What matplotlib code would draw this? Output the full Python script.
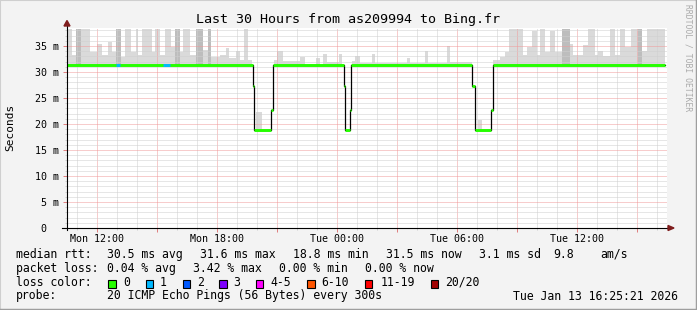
import numpy as np
import matplotlib
matplotlib.use("Agg")
import matplotlib.pyplot as plt
from matplotlib.patches import Rectangle, Polygon

W, H, DPI = 697, 310, 100
MONO = "DejaVu Sans Mono"

# time axis in hours since Mon 00:00
x_start, x_end = 10.5, 40.5
y_top = 38.46

# median rtt (ms), step series: value med_v[i] holds from med_t[i] to med_t[i+1]
med_t = [10.5, 19.785, 19.865, 20.685, 20.785, 24.365, 24.415, 24.65, 24.70,
         30.765, 30.875, 31.685, 31.785, 40.4]
med_v = [31.4, 27.3, 18.8, 22.7, 31.4, 27.3, 18.8, 22.7, 31.4, 27.3, 18.8, 22.7, 31.4]

# spans with lost packets
loss_start = [12.95, 15.30]
loss_end = [13.15, 15.65]
loss_n = [1, 1]

# smoke bars (hours, top in ms, dark = more pings up there)
smoke_start = [10.50, 10.75, 10.95, 11.20, 11.65, 12.00, 12.25, 12.55, 12.75, 12.95,
               13.20, 13.40, 13.70, 13.95, 14.05, 14.25, 14.55, 14.75, 14.90, 15.15,
               15.40, 15.70, 15.90, 16.15, 16.30, 16.65, 16.95, 17.30, 17.55, 17.70,
               18.15, 18.45, 18.60, 18.95, 19.15, 19.35, 19.55, 19.95, 20.85, 21.00,
               21.30, 22.15, 22.95, 23.30, 23.50, 24.10, 24.75, 24.90, 25.15, 25.75,
               25.90, 27.50, 27.65, 28.40, 28.55, 29.50, 29.65, 31.05, 31.80, 32.15,
               32.40, 32.60, 33.00, 33.30, 33.50, 33.75, 34.00, 34.15, 34.40, 34.65,
               34.90, 35.25, 35.65, 35.80, 36.30, 36.55, 36.90, 37.05, 37.30, 37.65,
               37.90, 38.15, 38.40, 38.70, 39.05, 39.25, 39.50, 39.80, 40.00]
smoke_end = [10.75, 10.95, 11.20, 11.65, 12.00, 12.25, 12.55, 12.75, 12.95, 13.20,
             13.40, 13.70, 13.95, 14.05, 14.25, 14.55, 14.75, 14.90, 15.15, 15.40,
             15.70, 15.90, 16.15, 16.30, 16.65, 16.95, 17.30, 17.55, 17.70, 18.15,
             18.45, 18.60, 18.95, 19.15, 19.35, 19.55, 19.75, 20.25, 21.00, 21.30,
             22.15, 22.40, 23.15, 23.50, 24.10, 24.25, 24.90, 25.15, 25.75, 25.90,
             27.50, 27.65, 28.40, 28.55, 29.50, 29.65, 30.75, 31.25, 32.15, 32.40,
             32.60, 33.00, 33.30, 33.50, 33.75, 34.00, 34.15, 34.40, 34.65, 34.90,
             35.25, 35.65, 35.80, 36.30, 36.55, 36.90, 37.05, 37.30, 37.65, 37.90,
             38.15, 38.40, 38.70, 39.05, 39.25, 39.50, 39.80, 40.00, 40.40]
smoke_top = [38.5, 33.5, 38.5, 38.5, 34.0, 35.5, 33.5, 36.0, 34.0, 38.5,
             33.0, 38.5, 34.0, 38.5, 33.5, 38.5, 38.5, 34.0, 38.5, 33.5,
             38.5, 35.0, 38.5, 34.0, 38.5, 33.5, 38.5, 34.5, 38.5, 33.0,
             33.5, 34.8, 32.8, 34.3, 32.5, 38.5, 32.5, 22.5, 32.5, 34.2,
             32.3, 33.0, 32.9, 33.6, 32.2, 33.7, 32.3, 33.2, 32.0, 33.6,
             31.9, 32.9, 32.0, 34.2, 32.0, 35.2, 32.2, 21.0, 32.5, 33.0,
             34.0, 38.5, 38.5, 33.5, 35.0, 38.0, 33.5, 38.5, 34.0, 38.0,
             34.0, 38.5, 35.5, 33.5, 35.3, 38.5, 33.5, 34.2, 33.3, 38.5,
             33.5, 38.5, 35.0, 38.5, 38.5, 34.2, 38.5, 38.5, 38.5]
smoke_dark = [0, 0, 1, 0, 0, 0, 0, 0, 0, 1,
              0, 0, 0, 0, 0, 0, 0, 0, 0, 0,
              0, 0, 1, 0, 0, 0, 1, 0, 1, 0,
              0, 0, 0, 0, 0, 0, 0, 0, 0, 0,
              0, 0, 0, 0, 0, 0, 0, 0, 0, 0,
              0, 0, 0, 0, 0, 0, 0, 0, 0, 0,
              0, 0, 0, 0, 0, 0, 0, 0, 0, 0,
              0, 1, 0, 0, 0, 0, 0, 0, 0, 0,
              0, 0, 0, 0, 1, 0, 0, 0, 0]

tick_hours = [12, 18, 24, 30, 36]
tick_labels = ["Mon 12:00", "Mon 18:00", "Tue 00:00", "Tue 06:00", "Tue 12:00"]
y_major = [0, 5, 10, 15, 20, 25, 30, 35]
y_labels = ["0  ", "5 m", "10 m", "15 m", "20 m", "25 m", "30 m", "35 m"]

loss_names = ["0", "1", "2", "3", "4-5", "6-10", "11-19", "20/20"]
loss_colors = ["#26ff00", "#00b8ff", "#0059ff", "#7e00ff", "#ff00ff", "#ff5500", "#ff0000", "#a10000"]


def px(x, y):
    return x / W, 1 - y / H


fig = plt.figure(figsize=(W / DPI, H / DPI), dpi=DPI, facecolor="#f3f3f3")
ax = fig.add_axes([67 / W, 1 - 228 / H, 600 / W, 200 / H])
ax.set_facecolor("white")
ax.set_xlim(x_start, x_end)
ax.set_ylim(0, y_top)
for s in ax.spines.values():
    s.set_visible(False)

# smoke
for s, e, t, d in zip(smoke_start, smoke_end, smoke_top, smoke_dark):
    base = med_v[np.searchsorted(med_t, s, side="right") - 1]
    col = "#bdbdbd" if d else "#dadada"
    ax.bar(s, t - base, bottom=base - 0.2, width=e - s, align="edge",
           color=col, linewidth=0, zorder=1)

# median: black steps, green plateaus, loss colours on top
ax.step(med_t, med_v + [med_v[-1]], where="post", color="black", lw=0.9, zorder=3)
ax.hlines(med_v, med_t[:-1], med_t[1:], color=loss_colors[0], lw=2.1, zorder=4)
for s, e, n in zip(loss_start, loss_end, loss_n):
    ax.hlines(31.4, s, e, color=loss_colors[n], lw=2.1, zorder=5)

# grid
ax.set_xticks(np.arange(12, 40.6, 3))
ax.set_xticks(np.arange(11, 40.6, 1), minor=True)
ax.set_xticklabels([tick_labels[tick_hours.index(h)] if h in tick_hours else ""
                    for h in np.arange(12, 40.6, 3)])
ax.set_yticks(y_major)
ax.set_yticks(np.arange(1, 38.5, 1), minor=True)
ax.set_yticklabels(y_labels)
ax.grid(which="minor", color="#cfcfcf", linestyle=(0, (1, 1)), linewidth=0.72, zorder=2)
ax.grid(which="major", color="#f09a9a", linestyle=(0, (1, 1)), linewidth=0.72, zorder=2)
ax.set_axisbelow(False)
ax.tick_params(which="major", color="#e08080", length=2.9, width=0.72, labelsize=7.2)
ax.tick_params(axis="x", which="major", pad=1.2)
ax.tick_params(axis="y", which="major", pad=2.7)
ax.tick_params(which="minor", color="#cfcfcf", length=1.5, width=0.72)
for lab in ax.get_xticklabels() + ax.get_yticklabels():
    lab.set_fontfamily(MONO)

# axes with arrows
ax.plot([-5 / 600, 1.003], [0, 0], color="black", lw=0.8, transform=ax.transAxes, clip_on=False, zorder=6)
ax.plot([0, 0], [-2 / 200, 1.015], color="black", lw=0.8, transform=ax.transAxes, clip_on=False, zorder=6)
ax.add_patch(Polygon([(-3 / 600, 1.01), (3 / 600, 1.01), (0, 1.0375)], closed=True,
                     color="#7f1d1d", transform=ax.transAxes, clip_on=False, zorder=7))
ax.add_patch(Polygon([(1.0017, 2.5 / 200), (1.0017, -2.5 / 200), (1.0117, 0)], closed=True,
                     color="#7f1d1d", transform=ax.transAxes, clip_on=False, zorder=7))

# frame shading
fig.add_artist(plt.Line2D([0, 0, 1], [0, 1, 1], color="#cfcfcf", lw=1.5, transform=fig.transFigure))
fig.add_artist(plt.Line2D([0, 1, 1], [0, 0, 1], color="#9e9e9e", lw=2.5, transform=fig.transFigure))

# titles
fig.text(*px(348, 20), "Last 30 Hours from as209994 to Bing.fr", ha="center", va="center",
         family=MONO, fontsize=9.6)
fig.text(*px(10.5, 127), "Seconds", rotation=90, ha="center", va="center", family=MONO, fontsize=8)
fig.text(*px(688, 58), "RRDTOOL / TOBI OETIKER", rotation=-90, ha="center", va="center",
         family=MONO, fontsize=5.8, color="#aaaaaa")

# legend
rows = [
    (254.3, [(16, "median rtt:"), (107, "30.5 ms avg"), (200, "31.6 ms max"), (293, "18.8 ms min"),
             (386, "31.5 ms now"), (479, "3.1 ms sd"), (553, "9.8"), (600, "am/s")]),
    (268.3, [(16, "packet loss:"), (107, "0.04 % avg"), (193, "3.42 % max"), (279, "0.00 % min"),
             (365, "0.00 % now")]),
    (282.3, [(16, "loss color:")]),
    (296.0, [(16, "probe:"), (107, "20 ICMP Echo Pings (56 Bytes) every 300s"),
             (513, "Tue Jan 13 16:25:21 2026")]),
]
for y, items in rows:
    for x, t in items:
        fig.text(*px(x, y), t, ha="left", va="center", family=MONO, fontsize=8.3)

box_x = [108.3, 145.7, 182.7, 219.3, 256, 307.3, 365, 430.7]
lab_x = [123.3, 160, 196.7, 233.3, 270.7, 321.7, 380.7, 445]
for bx, lx, name, col in zip(box_x, lab_x, loss_names, loss_colors):
    x0, y0 = px(bx, 288.3)
    fig.add_artist(Rectangle((x0, y0), 7.4 / W, 8.5 / H, facecolor=col, edgecolor="black",
                             lw=0.8, transform=fig.transFigure))
    fig.text(*px(lx, 282.3), name, ha="left", va="center", family=MONO, fontsize=8.3)

fig.savefig("out.png", dpi=DPI, facecolor=fig.get_facecolor())
